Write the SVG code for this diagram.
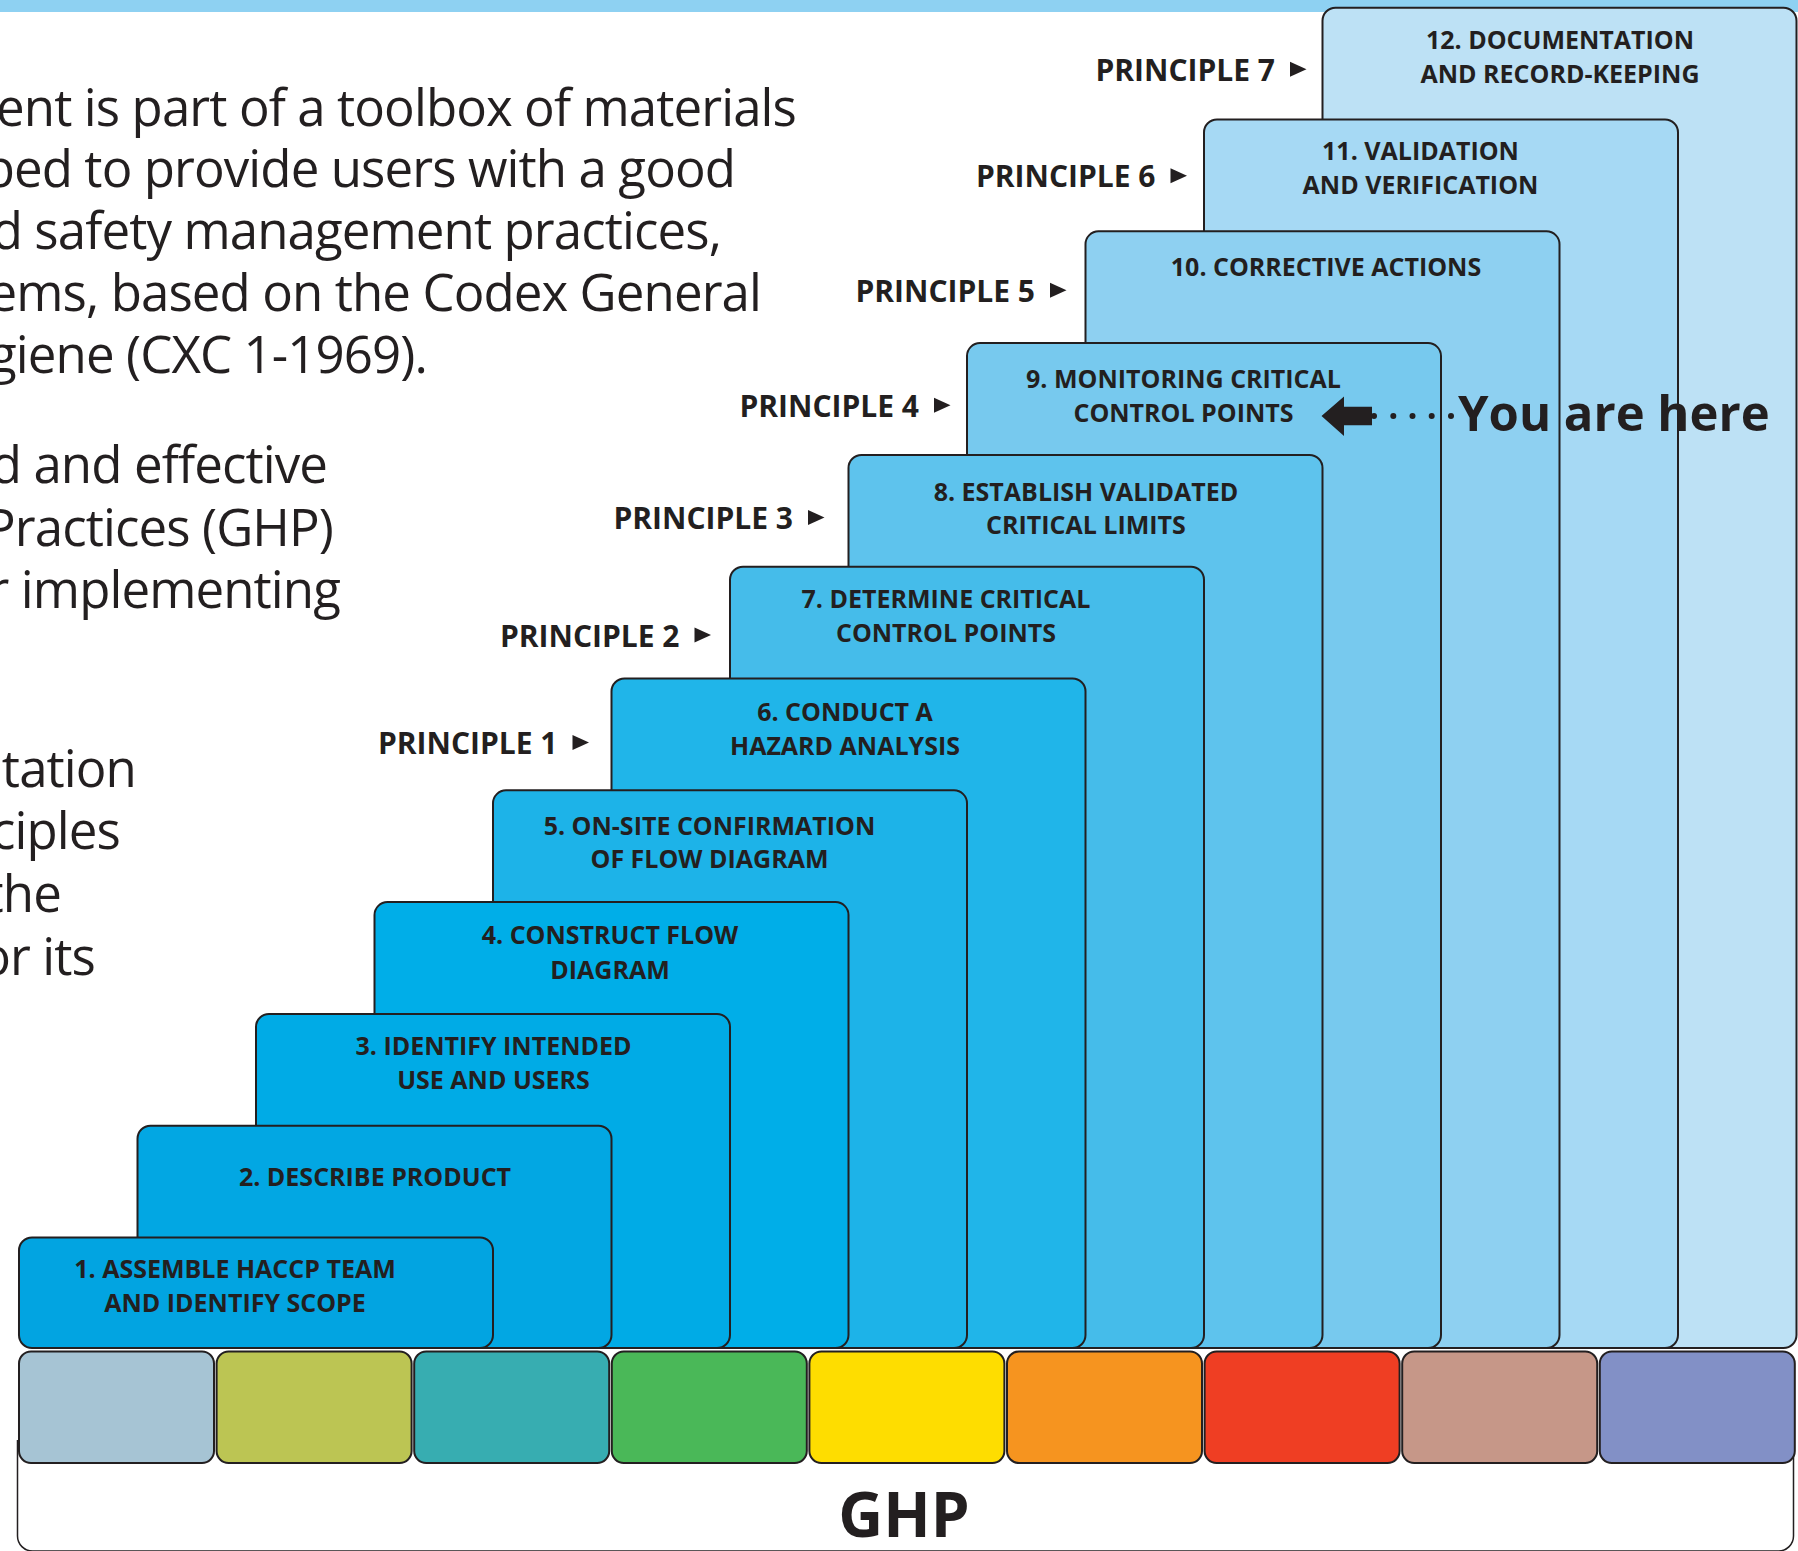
<svg xmlns="http://www.w3.org/2000/svg" width="1798" height="1551" viewBox="0 0 1798 1551">
<defs>
<style>
.body{font-family:"Open Sans","Liberation Sans",sans-serif;font-size:51px;letter-spacing:-0.9px;fill:#231f20;text-anchor:end}
.pl{font-family:"Open Sans","Liberation Sans",sans-serif;font-weight:bold;font-size:30px;fill:#231f20;text-anchor:end}
.bl{font-family:"Open Sans","Liberation Sans",sans-serif;font-weight:bold;font-size:25px;fill:#231f20;text-anchor:middle}
.box{stroke:#231f20;stroke-width:2}
.sq{stroke:#231f20;stroke-width:2}
.tri{fill:#231f20}
</style>
</defs>
<rect x="0" y="0" width="1798" height="1551" fill="#ffffff"/>
<rect id="top-band" x="0" y="0" width="1798" height="12" fill="#8ed1f2"/>

<g id="intro-text">
<text class="body" x="796" y="125.5">ent is part of a toolbox of materials</text>
<text class="body" x="735" y="187">ped to provide users with a good</text>
<text class="body" x="721" y="249">d safety management practices,</text>
<text class="body" x="761" y="311">ems, based on the Codex General</text>
<text class="body" x="427" y="373">giene (CXC 1-1969).</text>
<text class="body" x="327" y="483">d and effective</text>
<text class="body" x="333" y="546">Practices (GHP)</text>
<text class="body" x="340" y="608">r implementing</text>
<text class="body" x="136" y="787">tation</text>
<text class="body" x="120" y="849">ciples</text>
<text class="body" x="61" y="912">the</text>
<text class="body" x="95" y="975">or its</text>
</g>

<g id="step-12"><rect class="box" x="1322.5" y="7.7" width="474" height="1340.3" rx="13" fill="#bde1f5"/>
<text class="bl" x="1560" y="49.3">12. DOCUMENTATION</text><text class="bl" x="1560" y="83.3">AND RECORD-KEEPING</text></g>
<g id="step-11"><rect class="box" x="1204" y="119.5" width="474" height="1228.5" rx="13" fill="#a6d9f4"/>
<text class="bl" x="1420.5" y="160">11. VALIDATION</text><text class="bl" x="1420.5" y="194">AND VERIFICATION</text></g>
<g id="step-10"><rect class="box" x="1085.5" y="231.3" width="474" height="1116.7" rx="13" fill="#8ed0f1"/>
<text class="bl" x="1326" y="276">10. CORRECTIVE ACTIONS</text></g>
<g id="step-9"><rect class="box" x="967" y="343.1" width="474" height="1004.9" rx="13" fill="#77c9ee"/>
<text class="bl" x="1183.5" y="387.5">9. MONITORING CRITICAL</text><text class="bl" x="1183.5" y="421.5">CONTROL POINTS</text></g>
<g id="step-8"><rect class="box" x="848.5" y="454.9" width="474" height="893.1" rx="13" fill="#5ec3ed"/>
<text class="bl" x="1086" y="500.5">8. ESTABLISH VALIDATED</text><text class="bl" x="1086" y="534">CRITICAL LIMITS</text></g>
<g id="step-7"><rect class="box" x="730" y="566.7" width="474" height="781.3" rx="13" fill="#45bcea"/>
<text class="bl" x="946" y="607.5">7. DETERMINE CRITICAL</text><text class="bl" x="946" y="642">CONTROL POINTS</text></g>
<g id="step-6"><rect class="box" x="611.5" y="678.5" width="474" height="669.5" rx="13" fill="#20b5e9"/>
<text class="bl" x="845" y="721">6. CONDUCT A</text><text class="bl" x="845" y="755">HAZARD ANALYSIS</text></g>
<g id="step-5"><rect class="box" x="493" y="790.3" width="474" height="557.7" rx="13" fill="#1db3e8"/>
<text class="bl" x="709.5" y="834.5">5. ON-SITE CONFIRMATION</text><text class="bl" x="709.5" y="868">OF FLOW DIAGRAM</text></g>
<g id="step-4"><rect class="box" x="374.5" y="902.1" width="474" height="445.9" rx="13" fill="#00aee8"/>
<text class="bl" x="610" y="944">4. CONSTRUCT FLOW</text><text class="bl" x="610" y="978.5">DIAGRAM</text></g>
<g id="step-3"><rect class="box" x="256" y="1013.9" width="474" height="334.1" rx="13" fill="#00abe6"/>
<text class="bl" x="493.5" y="1055">3. IDENTIFY INTENDED</text><text class="bl" x="493.5" y="1088.5">USE AND USERS</text></g>
<g id="step-2"><rect class="box" x="137.5" y="1125.7" width="474" height="222.3" rx="13" fill="#02a7e3"/>
<text class="bl" x="375" y="1186">2. DESCRIBE PRODUCT</text></g>
<g id="step-1"><rect class="box" x="19" y="1237.5" width="474" height="110.5" rx="13" fill="#02a4e1"/>
<text class="bl" x="235" y="1278.3">1. ASSEMBLE HACCP TEAM</text><text class="bl" x="235" y="1311.7">AND IDENTIFY SCOPE</text></g>

<g id="principle-7"><text class="pl" x="1275" y="80.7">PRINCIPLE 7</text><polygon class="tri" points="1290,61.7 1306.5,69.2 1290,76.7"/></g>
<g id="principle-6"><text class="pl" x="1155.5" y="187.3">PRINCIPLE 6</text><polygon class="tri" points="1170.5,168.3 1187,175.8 1170.5,183.3"/></g>
<g id="principle-5"><text class="pl" x="1035" y="301.7">PRINCIPLE 5</text><polygon class="tri" points="1050,282.7 1066.5,290.2 1050,297.7"/></g>
<g id="principle-4"><text class="pl" x="919" y="416.7">PRINCIPLE 4</text><polygon class="tri" points="934,397.7 950.5,405.2 934,412.7"/></g>
<g id="principle-3"><text class="pl" x="793" y="529">PRINCIPLE 3</text><polygon class="tri" points="808,510 824.5,517.5 808,525"/></g>
<g id="principle-2"><text class="pl" x="679.5" y="646.6">PRINCIPLE 2</text><polygon class="tri" points="694.5,627.6 711,635.1 694.5,642.6"/></g>
<g id="principle-1"><text class="pl" x="557.5" y="754">PRINCIPLE 1</text><polygon class="tri" points="572.5,735 589,742.5 572.5,750"/></g>

<g id="ghp">
<path d="M17.5 1440 V1536 A15 15 0 0 0 32.5 1551 H1778.5 A15 15 0 0 0 1793.5 1536 V1440" fill="none" stroke="#231f20" stroke-width="1.5"/>
<rect class="sq" x="19" y="1351.5" width="195" height="111.5" rx="12" fill="#a6c4d4"/>
<rect class="sq" x="216.6" y="1351.5" width="195" height="111.5" rx="12" fill="#bcc553"/>
<rect class="sq" x="414.2" y="1351.5" width="195" height="111.5" rx="12" fill="#37adb1"/>
<rect class="sq" x="611.8" y="1351.5" width="195" height="111.5" rx="12" fill="#4ab858"/>
<rect class="sq" x="809.4" y="1351.5" width="195" height="111.5" rx="12" fill="#fedd00"/>
<rect class="sq" x="1007" y="1351.5" width="195" height="111.5" rx="12" fill="#f6941f"/>
<rect class="sq" x="1204.6" y="1351.5" width="195" height="111.5" rx="12" fill="#ef3e23"/>
<rect class="sq" x="1402.2" y="1351.5" width="195" height="111.5" rx="12" fill="#c69788"/>
<rect class="sq" x="1599.8" y="1351.5" width="195" height="111.5" rx="12" fill="#8290c6"/>
<text x="904" y="1536.7" font-family="Open Sans, Liberation Sans, sans-serif" font-weight="bold" font-size="62" fill="#231f20" text-anchor="middle">GHP</text>
</g>

<g id="connectors">
<polygon points="1321.5,416 1344,396.5 1344,406.7 1372,406.7 1372,425.3 1344,425.3 1344,436" fill="#231f20"/>
<circle cx="1374" cy="416" r="3" fill="#231f20"/>
<circle cx="1393.3" cy="416" r="3" fill="#231f20"/>
<circle cx="1412.5" cy="416" r="3" fill="#231f20"/>
<circle cx="1431.7" cy="416" r="3" fill="#231f20"/>
<circle cx="1451" cy="416" r="3" fill="#231f20"/>
</g>

<g id="you-are-here">
<text x="1458" y="431" font-family="Open Sans, Liberation Sans, sans-serif" font-weight="bold" font-size="49" fill="#231f20">You are here</text>
</g>
</svg>
